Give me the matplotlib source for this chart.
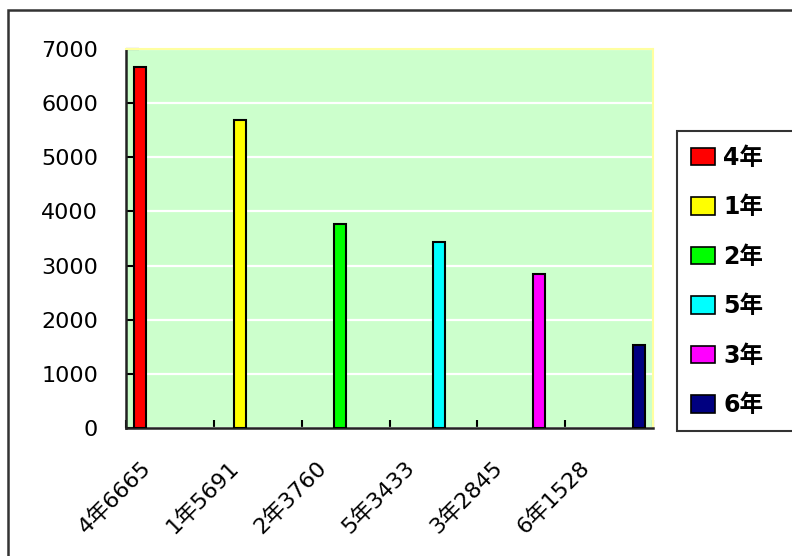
import matplotlib
matplotlib.use("Agg")
import matplotlib.pyplot as plt
import matplotlib.transforms as mtransforms
from matplotlib.patches import Rectangle

plt.rcParams["font.family"] = ["DejaVu Sans", "Noto Sans CJK JP"]

# Dados
series = ["4年", "1年", "2年", "5年", "3年", "6年"]
valores = [6665, 5691, 3760, 3433, 2845, 1528]
categorias = ["4年6665", "1年5691", "2年3760", "5年3433", "3年2845", "6年1528"]
cores = ["#FF0000", "#FFFF00", "#00FF00", "#00FFFF", "#FF00FF", "#000080"]
yticks = [0, 1000, 2000, 3000, 4000, 5000, 6000, 7000]

fig = plt.figure(figsize=(7.92, 5.56), dpi=100)
ax = fig.add_axes([126 / 792, 1 - 428 / 556, 527 / 792, 379 / 556])
ax.set_facecolor("#CCFFCC")

largura = 0.136
n = len(series)
for i, (nome, valor, cor) in enumerate(zip(series, valores, cores)):
    x = i + (i - (n - 1) / 2) * largura
    ax.bar(x, valor, width=largura, color=cor, edgecolor="black",
           linewidth=1.5, label=nome, zorder=3)

ax.set_xlim(-0.5, n - 0.5)
ax.set_ylim(0, 7000)
ax.set_yticks(yticks)
ax.yaxis.grid(True, color="white", linewidth=1.6, zorder=1)
ax.set_axisbelow(True)

ax.set_xticks(range(n))
ax.set_xticklabels(categorias, rotation=45, ha="right", va="top", fontsize=16)
ax.set_xticks([k - 0.5 for k in range(n + 1)], minor=True)
ax.tick_params(axis="x", which="major", length=0, pad=21)
ax.tick_params(axis="x", which="minor", direction="in", length=6, width=1.5)
ax.tick_params(axis="y", direction="in", length=9, width=1.5, pad=20, labelsize=16)

deslocamento = mtransforms.ScaledTranslation(-15 / 100, 0, fig.dpi_scale_trans)
for rotulo in ax.get_xticklabels():
    rotulo.set_transform(rotulo.get_transform() + deslocamento)

for lado in ["left", "bottom"]:
    ax.spines[lado].set_color("#222222")
    ax.spines[lado].set_linewidth(1.8)
for lado in ["top", "right"]:
    ax.spines[lado].set_color("#FFFFA0")
    ax.spines[lado].set_linewidth(1.5)

leg = fig.legend(loc="upper left",
                 bbox_to_anchor=(677 / 792, 1 - 132 / 556, 140 / 792, 0.001),
                 mode="expand", frameon=True, fancybox=False,
                 prop={"weight": "bold", "size": 17},
                 handlelength=1.0, handleheight=0.75, handletextpad=0.35,
                 labelspacing=1.08, borderpad=0.6, borderaxespad=0)
leg.get_frame().set_edgecolor("black")
leg.get_frame().set_linewidth(1.5)
for h in leg.legend_handles:
    h.set_linewidth(1.2)

# Moldura externa
fig.patches.append(Rectangle((8 / 792, -0.05), 1.1, 1 - 10 / 556 + 0.05,
                             transform=fig.transFigure, fill=False,
                             edgecolor="#333333", linewidth=1.8))

fig.savefig("out.png", dpi=100)
